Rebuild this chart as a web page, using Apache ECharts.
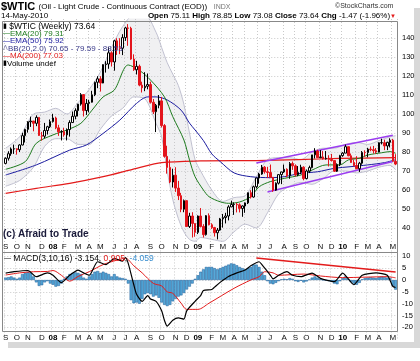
<!DOCTYPE html>
<html><head><meta charset="utf-8">
<script src="https://cdn.jsdelivr.net/npm/echarts@6/dist/echarts.min.js"></script>
<style>html,body{margin:0;padding:0;background:#fff}#c{width:420px;height:361px}</style>
</head><body><div id="c"></div>
<script>
// ---------- categories (weekly, Fridays) ----------
const firstWeek = '2007-09-07';
const weekCount = 141;
const weeks = [];
(function(){ let t = Date.parse(firstWeek + 'T00:00:00Z'); for (let k = 0; k < weekCount; k++) { weeks.push(new Date(t).toISOString().slice(0,10)); t += 7*86400000; } })();
const monthLetters = ['J','F','M','A','M','J','J','A','S','O','N','D'];

// ---------- weekly candles ----------
const opens = [74.0,76.7,79.1,81.6,81.7,81.2,83.7,88.6,91.9,95.9,96.3,95.1,98.2,88.7,88.3,91.3,93.3,96.0,97.9,92.7,
90.6,90.7,89.0,91.8,95.5,98.8,101.8,105.2,110.2,101.8,105.6,106.2,110.1,116.7,118.5,116.3,126.0,126.3,132.2,127.4,
138.5,134.9,134.6,140.2,145.3,145.1,128.9,123.3,125.1,115.2,113.8,114.6,115.5,106.2,101.2,104.6,106.9,93.9,77.7,71.9,
64.2,67.8,61.0,57.0,49.9,54.4,40.8,46.3,42.4,37.7,46.3,40.8,36.5,46.5,41.7,40.2,37.5,38.9,44.8,45.5,
46.3,51.1,52.4,52.5,52.2,50.3,51.6,53.2,58.6,56.3,61.7,66.3,68.4,72.0,69.6,69.2,66.7,59.9,63.6,68.1,
69.5,70.9,67.5,73.9,72.7,68.0,69.3,72.0,66.0,70.0,71.8,78.5,80.5,77.0,77.4,76.4,76.7,76.1,75.5,69.9,
73.4,78.1,79.4,82.8,78.0,74.5,72.9,71.2,74.1,79.8,79.7,81.5,81.2,80.7,80.0,84.9,84.9,83.2,85.1,86.2,75.1];
const closes = [76.7,79.1,81.6,81.7,81.2,83.7,88.6,91.9,95.9,96.3,95.1,98.2,88.7,88.3,91.3,93.3,96.0,97.9,92.7,90.6,
90.7,89.0,91.8,95.5,98.8,101.8,105.2,110.2,101.8,105.6,106.2,110.1,116.7,118.5,116.3,126.0,126.3,132.2,127.4,138.5,
134.9,134.6,140.2,145.3,145.1,128.9,123.3,125.1,115.2,113.8,114.6,115.5,106.2,101.2,104.6,106.9,93.9,77.7,71.9,64.2,
67.8,61.0,57.0,49.9,54.4,40.8,46.3,42.4,37.7,46.3,40.8,36.5,46.5,41.7,40.2,37.5,38.9,44.8,45.5,46.3,
51.1,52.4,52.5,52.2,50.3,51.6,53.2,58.6,56.3,61.7,66.3,68.4,72.0,69.6,69.2,66.7,59.9,63.6,68.1,69.5,
70.9,67.5,73.9,72.7,68.0,69.3,72.0,66.0,70.0,71.8,78.5,80.5,77.0,77.4,76.4,76.7,76.1,75.5,69.9,73.4,
78.1,79.4,82.8,78.0,74.5,72.9,71.2,74.1,79.8,79.7,81.5,81.2,80.7,80.0,84.9,84.9,83.2,85.1,86.2,75.1,73.64];
const lows = [73.5,75.5,78.0,79.0,78.6,80.0,83.5,85.0,90.2,93.2,90.9,93.6,88.5,86.0,87.2,89.2,92.6,95.5,92.0,88.5,
86.1,88.1,86.1,88.1,95.3,97.2,98.7,104.4,98.7,99.5,100.9,106.0,109.4,113.6,111.8,116.2,121.8,123.8,125.0,122.8,
131.1,131.5,131.0,138.5,135.9,128.5,122.7,120.8,114.6,111.3,112.0,113.0,105.5,100.0,90.5,103.0,92.9,77.0,68.6,63.6,
61.3,59.0,54.7,48.3,48.3,40.5,40.0,35.0,35.4,36.8,40.3,35.0,36.0,41.4,39.5,35.5,34.0,38.5,40.2,42.4,
44.0,51.0,46.9,48.2,48.2,45.9,48.0,52.6,55.5,56.0,60.8,63.3,68.0,68.6,66.3,66.3,59.0,59.5,62.9,63.1,
69.0,66.7,65.9,70.6,67.1,67.3,68.4,65.1,65.6,68.9,71.4,76.6,76.9,76.8,76.0,76.0,72.4,75.0,69.5,69.5,
72.6,77.5,79.4,77.8,74.3,72.4,71.0,69.5,73.3,77.6,77.2,80.4,79.2,79.0,79.8,84.0,81.0,81.0,82.4,75.0,73.08];
const highs = [77.2,80.4,82.4,83.9,81.9,84.1,90.1,92.2,96.2,98.6,95.8,99.3,98.3,90.6,95.3,93.8,97.1,100.1,98.6,94.3,
91.5,92.7,92.4,96.7,101.3,103.0,105.3,111.0,110.0,107.9,107.5,112.2,117.0,119.9,119.9,126.2,127.8,135.1,133.0,139.1,
139.9,139.9,142.0,145.9,147.3,145.9,131.4,128.0,126.0,117.0,122.0,121.3,117.0,107.9,105.3,110.0,109.0,94.7,83.3,76.0,
71.2,72.0,64.8,58.5,55.0,54.4,48.0,48.3,42.4,46.6,50.5,42.0,46.8,47.7,42.5,40.6,40.0,45.3,47.4,48.0,
52.0,54.4,53.5,53.2,53.0,51.9,53.4,58.6,59.9,62.3,66.5,69.0,73.2,72.6,72.2,73.4,66.0,64.0,68.2,69.6,
73.4,71.4,74.7,75.0,73.5,72.6,73.3,72.5,70.8,72.8,78.5,82.0,81.2,81.0,80.5,80.5,78.3,79.0,75.5,74.0,
78.5,79.9,83.9,82.8,79.2,76.0,77.8,74.8,80.5,80.9,82.2,82.9,83.2,82.1,85.1,87.0,86.5,85.4,87.2,86.9,78.85];

// ---------- overlays: [week index, value] ----------
const ema20Pts = [[0,70.9],[7,74.9],[11,84.6],[17,89],[22,91.6],[27,95.1],[31,102],[35,109],[39,112.6],[44,125.8],[48,123],[52,117.9],[57,109],[60,98.6],[64,86.3],[66,75.8],[68,67],[71,60],[73,56.5],[77,53.8],[80,53],[84,53.7],[88,56.5],[91,61.7],[95,64.4],[100,66.1],[106,67.9],[110,70.5],[115,73.2],[120,73.2],[123,75.8],[127,76.7],[130,78.4],[135,79.6],[138,80.2],[140,79.31]];
const ema50Pts = [[0,67.9],[11,73.2],[23,81],[29,83.7],[35,89.8],[41,96.8],[47,105.6],[51,109],[54,109],[58,107.4],[63,102],[66,95.2],[68,91.6],[71,86],[74,79],[77,75],[82,69],[88,67],[95,66.5],[100,67],[106,68.8],[112,69.6],[118,71.4],[124,72.3],[130,73.2],[136,74.4],[140,75.92]];
const ma200Pts = [[0,58.2],[11,60.9],[23,63.5],[35,67],[47,71.4],[56,74.4],[70,75.3],[90,75.5],[105,76],[120,76.6],[140,77.03]];
const bbIdx   = [0,5,10,14,18,22,26,30,34,38,42,46,50,54,56,58,60,62,64,66,68,70,74,78,82,86,90,94,98,102,106,110,114,118,122,126,130,134,138,140];
const bbUpper = [82,88,100,101,103,100,106,113,122,135,146,152,152,143,135,127,121,115,105,90,76,70,60,54,56,57,67,76,77,77,76,80,82,82,84,85,84,86,88,88.53];
const bbLower = [62,65,72,83,87,87,84,84,92,99,103,109,108,95,88,70,55,45,38,34,33,35,34,33,38,42,40,48,58,62,64,63,66,70,70,69,70,72,73,70.65];
const channelUp  = [[90,74.2],[139,88.8]];
const channelLow = [[94,59],[139,75]];

// ---------- MACD(3,10,16) ----------
const macdPts = [[0,2.9],[3,3.5],[8,4],[11,1.4],[15,3],[17,2],[20,-1.1],[23,2],[26,4.2],[28,3],[30,2],[33,7.7],[36,6.5],[39,9],[42,8],[43,9.5],[44,7],[46,-2],[47,-6],[49,-9],[51,-6.6],[52,-8],[54,-9],[56,-13],[57,-17],[58,-19.5],[60,-17],[62,-16],[64,-16.5],[65,-13],[68,-9],[70,-6.6],[71,-4.4],[74,-4],[75,-3],[77,-1],[80,1.5],[83,3],[86,4.2],[88,6],[91,7.7],[92,6.5],[95,2.1],[96,0.5],[98,2],[101,3.5],[103,2],[106,1.4],[110,2.9],[113,0.7],[118,-0.7],[121,2.9],[125,-2],[128,2],[133,3],[137,2],[139,-2.7],[140,-3.154]];
const signalPts = [[0,2.1],[5,3],[10,3.5],[15,3.6],[17,4],[20,2],[23,-0.5],[26,1.5],[30,3.5],[35,6.5],[40,8.4],[43,9.2],[46,6],[49,3],[53,-1.4],[56,-2.5],[58,-5],[60,-5.6],[63,-9.8],[65,-12.4],[69,-12.4],[73,-9.8],[82,-3.5],[88,0],[91,1.4],[93,3.5],[96,3],[98,2],[107,2.5],[113,1.7],[121,1],[129,1.2],[137,1.4],[140,0.905]];
const histVals = [1.0,1.2,1.5,1.0,0.5,1.0,2.5,3.0,3.5,3.0,1.5,-1.0,-2.5,-2.2,-1.0,-0.5,-1.5,-2.0,-2.8,-2.5,
-1.5,0.5,1.5,2.5,3.0,3.2,3.0,2.5,1.0,0.5,1.5,2.5,3.5,3.8,3.0,3.5,3.0,2.5,1.5,2.5,
1.5,1.0,0.8,0.5,-1.5,-8.5,-9.8,-9.5,-10.0,-8.0,-6.0,-5.5,-6.0,-7.0,-6.5,-7.5,-9.5,-10.5,-11.0,-10.5,
-9.0,-8.0,-7.0,-6.5,-5.5,-4.0,-2.8,-1.5,0.5,2.0,3.5,4.5,5.5,5.5,5.5,5.0,4.5,5.0,5.5,6.0,
6.5,7.0,6.8,6.2,5.5,5.0,4.5,5.0,5.5,6.5,6.5,5.5,3.5,2.0,-0.5,-1.5,-1.8,-1.2,-0.5,0.3,
0.5,0.3,0.8,0.5,-0.5,-0.8,-0.3,-1.0,-0.6,0.2,1.0,1.5,1.0,0.5,0.0,-0.3,-0.5,-0.8,-1.5,-1.8,
-0.5,0.8,1.5,0.5,-0.8,-1.5,-2.0,-1.2,0.3,0.8,1.0,1.2,1.0,0.8,1.2,1.5,1.2,1.0,0.8,-2.5,-4.059];
const macdTrend = [[90,9.3],[140,3.4]];

// ---------- build ----------
function monthLabel(i){
  const m = new Date(weeks[i]+'T00:00:00Z').getUTCMonth();
  if (i > 0 && new Date(weeks[i-1]+'T00:00:00Z').getUTCMonth() === m) return '';
  return m === 0 ? '{y|' + weeks[i].slice(2,4) + '}' : monthLetters[m];
}
const isMonthStart = (i) => monthLabel(i) !== '';
const candleData = opens.map((o,i)=>[o, closes[i], lows[i], highs[i]]);
const bbLowerData = bbIdx.map((k,j)=>[k, bbLower[j]]);
const bbBandData = bbIdx.map((k,j)=>[k, bbUpper[j]-bbLower[j]]);

const FONT = 'Liberation Sans, Arial, sans-serif';
const gridDash = {show:true, lineStyle:{color:'#c9c9c9', type:[1,2], width:1}};
function xAxisFor(gi, margin){
  return {type:'category', gridIndex:gi, data:weeks, boundaryGap:true,
    axisLine:{show:false}, axisTick:{show:false},
    axisLabel:{interval:(i)=>isMonthStart(i), formatter:(v,i)=>monthLabel(i), margin:margin,
      fontFamily:FONT, fontSize:8, color:'#111', rich:{y:{fontWeight:'bold', fontSize:8, fontFamily:FONT, color:'#000'}}},
    splitLine:{show:true, interval:(i)=>isMonthStart(i), lineStyle:{color:'#c9c9c9', type:[1,2], width:1}}};
}
function yAxisFor(gi, min, max, interval){
  return {type:'value', gridIndex:gi, position:'right', min:min, max:max, interval:interval,
    axisLine:{show:false}, axisTick:{show:false},
    axisLabel:{margin:5, fontFamily:FONT, fontSize:7.5, color:'#000', showMinLabel:false, showMaxLabel:false},
    splitLine:Object.assign({}, gridDash, {showMinLine:false, showMaxLine:false})};
}

const chart = echarts.init(document.getElementById('c'), null, {renderer:'canvas'});
const option = {
  animation:false,
  backgroundColor:'#fff',
  grid:[{left:2, width:395, top:19, height:228}, {left:2, width:395, top:244.45, height:94.8}],
  xAxis:[xAxisFor(0,-4), xAxisFor(1,-5)],
  yAxis:[yAxisFor(0,30,150,10), yAxisFor(1,-25,15,5)],
  series:[
    {type:'line', name:'bbLow', xAxisIndex:0, yAxisIndex:0, stack:'bb', data:bbLowerData, showSymbol:false, smooth:0.3,
      lineStyle:{color:'#c0c0d0', width:1}, z:1},
    {type:'line', name:'bbBand', xAxisIndex:0, yAxisIndex:0, stack:'bb', data:bbBandData, showSymbol:false, smooth:0.3,
      lineStyle:{color:'#c0c0d0', width:1}, areaStyle:{color:'rgba(200,200,210,0.4)'}, z:1},
    {type:'line', name:'ma200', data:ma200Pts, showSymbol:false, smooth:0.3, lineStyle:{color:'#e31b1b', width:1.2}, z:3},
    {type:'line', name:'ema50', data:ema50Pts, showSymbol:false, smooth:0.3, lineStyle:{color:'#1c1ca0', width:1}, z:3},
    {type:'line', name:'ema20', data:ema20Pts, showSymbol:false, smooth:0.3, lineStyle:{color:'#1e7b1e', width:1}, z:3},
    {type:'line', name:'chUp', data:channelUp, showSymbol:false, lineStyle:{color:'#9b3df0', width:1.5}, z:4},
    {type:'line', name:'chLow', data:channelLow, showSymbol:false, lineStyle:{color:'#9b3df0', width:1.5}, z:4},
    {type:'candlestick', name:'price', data:candleData, barWidth:2, z:5,
      itemStyle:{color:'#ffffff', color0:'#e3141c', borderColor:'#000000', borderColor0:'#e3141c', borderWidth:1}},
    {type:'bar', name:'hist', xAxisIndex:1, yAxisIndex:1, data:histVals, barWidth:'100%',
      itemStyle:{color:'#55a9d9', borderColor:'#1d5a96', borderWidth:0.5}, z:2},
    {type:'line', name:'signal', xAxisIndex:1, yAxisIndex:1, data:signalPts, showSymbol:false, smooth:0.3,
      lineStyle:{color:'#e31b1b', width:1}, z:3},
    {type:'line', name:'macd', xAxisIndex:1, yAxisIndex:1, data:macdPts, showSymbol:false, smooth:0.2,
      lineStyle:{color:'#000', width:1.2}, z:4},
    {type:'line', name:'trend', xAxisIndex:1, yAxisIndex:1, data:[], z:5,
      markLine:{silent:true, symbol:['none','arrow'], symbolSize:[0,7], label:{show:false},
        lineStyle:{color:'#e31b1b', width:1.5, type:'solid'},
        data:[[{coord:macdTrend[0]},{coord:macdTrend[1]}]]}}
  ],
  graphic:[
    // frames
    {type:'rect', shape:{x:2.5, y:21.5, width:395, height:231}, style:{fill:'none', stroke:'#888', lineWidth:1}, z:10, silent:true},
    {type:'rect', shape:{x:2.5, y:252.5, width:395, height:79}, style:{fill:'none', stroke:'#888', lineWidth:1}, z:10, silent:true},
    // shadow
    {type:'rect', shape:{x:414, y:8, width:6, height:340}, style:{fill:'#d8d8d8'}, z:0, silent:true},
    {type:'rect', shape:{x:8, y:342, width:412, height:6}, style:{fill:'#d8d8d8'}, z:0, silent:true},
    // header
    {type:'text', x:1, y:1, style:{text:'{a|$WTIC} {b|(Oil - Light Crude - Continuous Contract (EOD))}  {c|INDX}',
      rich:{a:{fontFamily:FONT, fontWeight:'bold', fontSize:11, fill:'#000'}, b:{fontFamily:FONT, fontSize:8, fill:'#000'}, c:{fontFamily:FONT, fontSize:7, fill:'#777'}}}, z:20},
    {type:'text', x:335, y:3, style:{text:'©StockCharts.com', fontFamily:FONT, fontSize:7, fill:'#333'}, z:20},
    {type:'text', x:1, y:12, style:{text:'14-May-2010', fontFamily:FONT, fontSize:8, fill:'#000'}, z:20},
    {type:'text', x:396, y:12, style:{text:'{k|Open} 75.11 {k|High} 78.85 {k|Low} 73.08 {k|Close} 73.64 {k|Chg} -1.47 (-1.96%){r|▼}', align:'right',
      fontFamily:FONT, fontSize:8, fill:'#000', rich:{k:{fontWeight:'bold', fontFamily:FONT, fontSize:8}, r:{fill:'#e31b1b', fontSize:6, fontFamily:FONT}}}, z:20},
    // legend
    {type:'text', x:3, y:22, style:{text:'{i|▮} $WTIC (Weekly) 73.64', fontFamily:FONT, fontSize:8.5, fill:'#000', rich:{i:{fill:'#000', fontSize:7}}}, z:20},
    {type:'text', x:3, y:29.5, style:{text:'{i|—}EMA(20) 79.31', fontFamily:FONT, fontSize:8, fill:'#1e7b1e', rich:{i:{fill:'#1e7b1e', fontSize:7}}}, z:20},
    {type:'text', x:3, y:37, style:{text:'{i|—}EMA(50) 75.92', fontFamily:FONT, fontSize:8, fill:'#1c1ca0', rich:{i:{fill:'#1c1ca0', fontSize:7}}}, z:20},
    {type:'text', x:3, y:44.5, style:{text:'{i|ᐱ}BB(20,2.0) 70.65 - 79.59 - 88.53', fontFamily:FONT, fontSize:8, fill:'#3a3a8a', rich:{i:{fill:'#8a8ab0', fontSize:7}}}, z:20},
    {type:'text', x:3, y:52, style:{text:'{i|—}MA(200) 77.03', fontFamily:FONT, fontSize:8, fill:'#e31b1b', rich:{i:{fill:'#e31b1b', fontSize:7}}}, z:20},
    {type:'text', x:3, y:59.5, style:{text:'{i|▮}Volume undef', fontFamily:FONT, fontSize:8, fill:'#000', rich:{i:{fill:'#000', fontSize:7}}}, z:20},
    {type:'text', x:3, y:229, style:{text:'(c) Afraid to Trade', fontFamily:FONT, fontWeight:'bold', fontSize:10, fill:'#1a1a3a'}, z:20},
    {type:'text', x:4, y:254, style:{text:'{i|—} MACD(3,10,16) -3.154, {r|0.905}, {b|-4.059}', fontFamily:FONT, fontSize:8.5, fill:'#000',
      rich:{i:{fill:'#000', fontSize:7}, r:{fill:'#e31b1b', fontFamily:FONT, fontSize:8.5}, b:{fill:'#3a8fd0', fontFamily:FONT, fontSize:8.5}}}, z:20}
  ]
};
chart.setOption(option);
</script></body></html>
